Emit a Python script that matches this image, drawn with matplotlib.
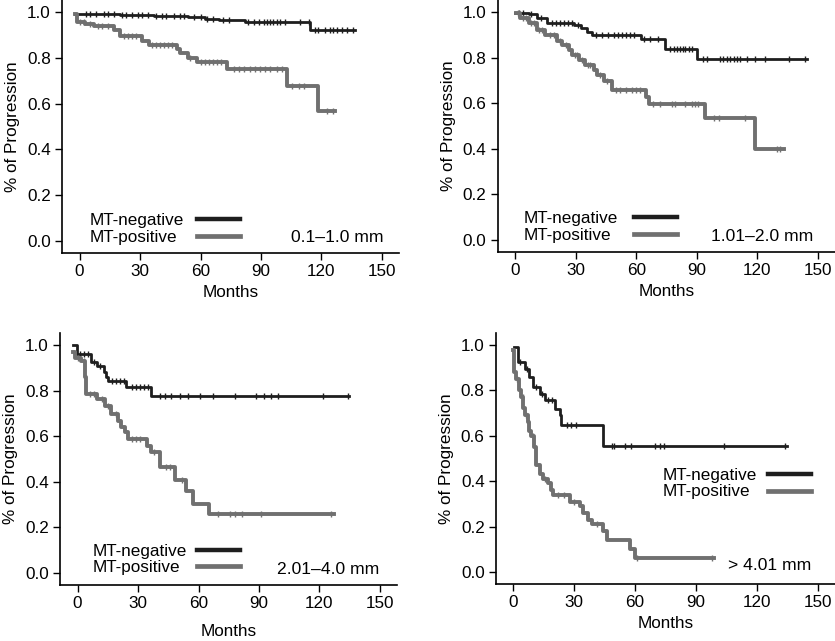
import numpy as np
import matplotlib.pyplot as plt
from matplotlib.lines import Line2D

plt.rcParams['font.family'] = ['Liberation Sans', 'DejaVu Sans']

neg_color = '#1e1e1e'
pos_color = '#707070'

# panel A: 0.1-1.0 mm
a_neg_t = [-2.5, 20, 37, 46, 54, 62, 69, 82, 114.4]
a_neg_s = [0.992, 0.989, 0.985, 0.982, 0.978, 0.972, 0.966, 0.955, 0.923]
a_neg_end = 136.6
a_neg_cens = [3, 5, 8, 12, 14, 17, 21, 23, 26, 29, 31, 34, 38, 41, 43, 47, 50, 52, 57, 60, 63, 66, 71, 74,
              83.8, 86.3, 88.8, 91.3, 92.9, 94.6, 96.2, 97.9, 99.5, 102, 109.4, 113.6, 116.9, 118.5,
              121.8, 124.3, 125.9, 127.6, 130, 132.5, 135.8]
a_pos_t = [-2.5, -1.5, 2.5, 7, 17, 20, 31, 34.5, 48.4, 50, 54, 58.5, 73, 102.8, 118.4]
a_pos_s = [0.99, 0.958, 0.946, 0.939, 0.92, 0.896, 0.874, 0.857, 0.838, 0.819, 0.8, 0.781, 0.749, 0.675, 0.567]
a_pos_end = 126.5
a_pos_cens = [0, 2, 5, 9, 11, 14, 22, 24, 26, 28, 36, 38, 40, 42, 44, 46, 55, 60, 62, 64, 66, 68, 70,
              76.4, 78.9, 81.4, 84.6, 87.1, 89.6, 92.1, 94.6, 97.9, 100.4, 105.4, 108.7, 111.2, 123, 125.5]

# panel B: 1.01-2.0 mm
b_neg_t = [0, 6.8, 10.9, 15.9, 29, 32.4, 35.7, 38.2, 62.1, 74.4, 90]
b_neg_s = [0.997, 0.99, 0.972, 0.953, 0.943, 0.928, 0.914, 0.899, 0.88, 0.836, 0.792]
b_neg_end = 144.5
b_neg_cens = [2, 4, 8, 13, 18, 20, 22, 24, 26, 28, 31, 40, 43, 46, 49, 51, 53, 55, 57, 59, 64, 67, 71,
              76.8, 78.5, 80.1, 81.8, 83.4, 84.2, 85.9, 87.5, 93.3, 94.9, 101.5, 103.2, 104.8, 106.5,
              108.2, 109.8, 111.5, 114.8, 118.9, 123.9, 135.5, 143.7]
b_pos_t = [0.5, 2.6, 6.8, 10.9, 15, 20.8, 23.3, 26.6, 28.2, 31.5, 34.8, 38.9, 40.6, 43.9, 48, 64.6, 66.5, 94.2, 118.9]
b_pos_s = [0.994, 0.972, 0.95, 0.921, 0.899, 0.874, 0.855, 0.833, 0.811, 0.789, 0.767, 0.746, 0.724, 0.697,
           0.658, 0.629, 0.598, 0.534, 0.397]
b_pos_end = 133
b_pos_cens = [1.5, 4, 5.5, 8, 9.5, 12, 13.5, 17, 19, 22, 25, 29.5, 30.5, 33, 36, 37, 42, 45.5, 50, 52, 55,
              58, 60, 62, 68.5, 72, 77.6, 79.3, 84.2, 87.5, 89.2, 90.8, 98.3, 100.8, 113.9, 129.7, 131.3]

# panel C: 2.01-4.0 mm
c_neg_t = [-2.2, -0.5, 6.9, 9.4, 13.2, 14.3, 15.2, 24.2, 36.6]
c_neg_s = [1.0, 0.96, 0.924, 0.909, 0.88, 0.858, 0.843, 0.814, 0.777]
c_neg_end = 134.8
c_neg_cens = [1, 3, 5, 8, 11, 17, 19, 21, 23, 27, 29, 31, 33, 35, 40.8, 43.2, 46.5, 50.6, 54.8, 60.6,
              67.2, 77.9, 88.6, 92.7, 96, 99.3, 121.6, 134]
c_pos_t = [-2.2, -1.4, 1.9, 3.5, 4.4, 9.4, 13.5, 16.8, 20.1, 21.7, 23.4, 25.1, 34.2, 36.6, 40.7, 48.2, 54, 57.3, 65.2]
c_pos_s = [0.97, 0.945, 0.931, 0.858, 0.785, 0.763, 0.734, 0.697, 0.668, 0.639, 0.617, 0.588, 0.558, 0.529,
           0.463, 0.405, 0.361, 0.302, 0.256]
c_pos_end = 127.4
c_pos_cens = [0, 3, 6, 8, 12, 15, 19, 27, 29, 31, 38, 44, 46, 52, 69.6, 75.4, 77.9, 81.7, 91.1, 125.7]

# panel D: > 4.01 mm
d_neg_t = [0.5, 2.2, 5.5, 7.9, 9.6, 12.9, 15.4, 20.4, 22.8, 23.7, 44.4]
d_neg_s = [0.99, 0.923, 0.894, 0.86, 0.814, 0.784, 0.755, 0.719, 0.69, 0.645, 0.553]
d_neg_end = 134.6
d_neg_cens = [3.5, 6.5, 11, 14, 17, 19, 26.2, 28.6, 31.1, 48.5, 49.7, 55.1, 58.1, 69.7, 72.2, 74.2, 104, 133.8]
d_pos_t = [0, 0.5, 1.3, 3.0, 3.8, 4.8, 5.5, 7.1, 7.9, 8.8, 10.4, 11.3, 12.9, 14.6, 17.0, 18.7, 19.5, 27.8,
           32.8, 34.4, 36.9, 38.6, 44.4, 46.0, 57.6, 60.1]
d_pos_s = [0.975, 0.88, 0.85, 0.80, 0.77, 0.72, 0.69, 0.66, 0.62, 0.60, 0.55, 0.47, 0.43, 0.41, 0.39, 0.36,
           0.34, 0.31, 0.29, 0.26, 0.23, 0.21, 0.18, 0.14, 0.10, 0.06]
d_pos_end = 99
d_pos_cens = [2, 4.6, 6.3, 9.5, 15.5, 22, 25, 30, 41, 61, 98]

labels = ['0.1\u20131.0 mm', '1.01\u20132.0 mm', '2.01\u20134.0 mm', '> 4.01 mm']
x_ticks = [0, 30, 60, 90, 120, 150]
y_ticks = [0.0, 0.2, 0.4, 0.6, 0.8, 1.0]


def km(ax, t, s, end, cens, color, lw):
    tt = np.append(t, end)
    ss = np.append(s, s[-1])
    ax.step(tt, ss, where='post', color=color, lw=lw)
    idx = np.searchsorted(t, cens, side='right') - 1
    ax.plot(cens, np.array(s)[idx], ls='none', marker='|', ms=5, mew=1, color=color)


fig = plt.figure(figsize=(8.35, 6.41), dpi=100)

# axes rect, curves, legend text anchor, legend line x, range label anchor, xlabel pad
panels = [
    ([0.0743, 0.6053, 0.4036, 0.3947], (a_neg_t, a_neg_s, a_neg_end, a_neg_cens),
     (a_pos_t, a_pos_s, a_pos_end, a_pos_cens), (0.083, 0.095), 0.400, (0.953, 0.063), 4),
    ([0.596, 0.6069, 0.404, 0.3931], (b_neg_t, b_neg_s, b_neg_end, b_neg_cens),
     (b_pos_t, b_pos_s, b_pos_end, b_pos_cens), (0.078, 0.099), 0.404, (0.935, 0.063), 4),
    ([0.0719, 0.0874, 0.4036, 0.3931], (c_neg_t, c_neg_s, c_neg_end, c_neg_cens),
     (c_pos_t, c_pos_s, c_pos_end, c_pos_cens), (0.098, 0.101), 0.407, (0.947, 0.063), 9),
    ([0.5937, 0.0885, 0.4063, 0.3925], (d_neg_t, d_neg_s, d_neg_end, d_neg_cens),
     (d_pos_t, d_pos_s, d_pos_end, d_pos_cens), (0.493, 0.40), 0.803, (0.929, 0.073), 4),
]

for i, (pos, neg, posi, leg_xy, line_x, txt_xy, xpad) in enumerate(panels):
    ax = fig.add_axes(pos)
    km(ax, *neg, neg_color, 2.0)
    km(ax, *posi, pos_color, 2.8)
    ax.set_xlim(-8.7, 158.5)
    ax.set_ylim(-0.054, 1.053)
    ax.set_xticks(x_ticks)
    ax.set_yticks(y_ticks)
    ax.set_yticklabels(['%.1f' % v for v in y_ticks])
    ax.spines['top'].set_visible(False)
    ax.spines['right'].set_visible(False)
    ax.spines['left'].set_linewidth(1.2)
    ax.spines['bottom'].set_linewidth(1.2)
    ax.tick_params(direction='out', length=5, width=1, labelsize=12.3, pad=3)
    ax.set_xlabel('Months', fontsize=12.3, labelpad=xpad)
    ax.set_ylabel('% of Progression', fontsize=12.3, labelpad=5)

    blank = [Line2D([], [], alpha=0), Line2D([], [], alpha=0)]
    leg1 = ax.legend(blank, ['MT-negative', 'MT-positive'], loc='center left', bbox_to_anchor=leg_xy,
                     frameon=False, fontsize=12.3, handlelength=0, handletextpad=0,
                     labelspacing=0.1, borderpad=0, borderaxespad=0)
    ax.add_artist(leg1)
    handles = [Line2D([], [], color=neg_color, lw=3.2), Line2D([], [], color=pos_color, lw=3.4)]
    ax.legend(handles, [' ', ' '], loc='center left', bbox_to_anchor=(line_x, leg_xy[1]),
              frameon=False, fontsize=12.3, handlelength=2.5, handletextpad=0,
              labelspacing=0.1, borderpad=0, borderaxespad=0)
    ax.text(txt_xy[0], txt_xy[1], labels[i], transform=ax.transAxes, ha='right', va='center', fontsize=12.6)

plt.savefig('out.png', dpi=100)
